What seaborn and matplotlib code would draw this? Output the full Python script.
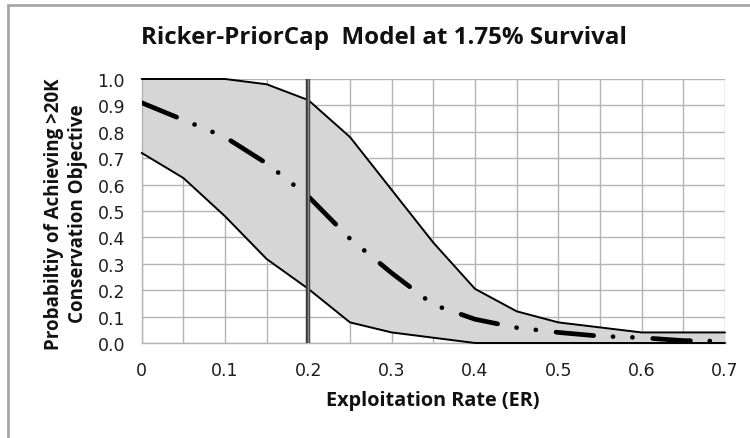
import matplotlib
matplotlib.use("Agg")
import matplotlib.pyplot as plt
from matplotlib.lines import Line2D
import numpy as np
import pandas as pd
import seaborn as sns

# Exploitation rate grid and probability of meeting the >20K objective
exploitation_rate = [0.00, 0.05, 0.10, 0.15, 0.20, 0.25, 0.30, 0.35,
                     0.40, 0.45, 0.50, 0.55, 0.60, 0.65, 0.70]
prob_median = [0.91, 0.845, 0.78, 0.68, 0.555, 0.395, 0.265, 0.145,
               0.09, 0.058, 0.04, 0.026, 0.02, 0.009, 0.007]
prob_upper = [1.00, 1.00, 1.00, 0.98, 0.92, 0.78, 0.58, 0.38,
              0.205, 0.12, 0.078, 0.059, 0.04, 0.04, 0.04]
prob_lower = [0.72, 0.625, 0.48, 0.318, 0.205, 0.078, 0.04, 0.02,
              0.00, 0.00, 0.00, 0.00, 0.00, 0.00, 0.00]
reference_er = 0.20

x_ticks = [0, 0.1, 0.2, 0.3, 0.4, 0.5, 0.6, 0.7]
x_tick_labels = ["0", "0.1", "0.2", "0.3", "0.4", "0.5", "0.6", "0.7"]
y_ticks = [0.0, 0.1, 0.2, 0.3, 0.4, 0.5, 0.6, 0.7, 0.8, 0.9, 1.0]

title_text = "Ricker-PriorCap  Model at 1.75% Survival"
x_label = "Exploitation Rate (ER)"
y_label = "Probabiltiy of Achieving >20K\nConservation Objective"

df = pd.DataFrame({"er": exploitation_rate, "median": prob_median,
                   "upper": prob_upper, "lower": prob_lower})

sns.set_style("white")
plt.rcParams["font.family"] = ["DejaVu Sans"]

fig = plt.figure(figsize=(7.5, 4.39), dpi=100)
ax = fig.add_axes([141.7 / 750, 1 - 344 / 439, (725 - 141.7) / 750, (344 - 80) / 439])

grid_c = "#b4b4b4"
ax.set_xlim(0, 0.7)
ax.set_ylim(0, 1.0)
ax.set_xticks(x_ticks)
ax.set_xticklabels(x_tick_labels)
ax.set_yticks(y_ticks)
ax.set_yticklabels([f"{v:.1f}" for v in y_ticks])
ax.set_xticks(np.arange(0.05, 0.7, 0.1), minor=True)
ax.grid(True, which="both", color=grid_c, linewidth=1.0, zorder=0)
ax.set_axisbelow(True)
for side in ["top", "right"]:
    ax.spines[side].set_visible(False)
for side in ["left", "bottom"]:
    ax.spines[side].set_color(grid_c)
    ax.spines[side].set_linewidth(1.0)
ax.tick_params(axis="both", which="major", direction="out", length=5,
               width=1.0, color=grid_c, labelsize=12.5, labelcolor="#1e1e1e")
ax.tick_params(axis="x", which="major", pad=8)
ax.tick_params(axis="y", which="major", pad=7)
ax.tick_params(axis="x", which="minor", length=0)

# Uncertainty band
ax.fill_between(df["er"], df["lower"], df["upper"], color="#d6d6d6",
                linewidth=0, zorder=1)
sns.lineplot(data=df, x="er", y="upper", ax=ax, color="black",
             linewidth=1.4, zorder=3, clip_on=False)
sns.lineplot(data=df, x="er", y="lower", ax=ax, color="black",
             linewidth=1.4, zorder=3, clip_on=False)

# Median: long dash - dot - dot
sns.lineplot(data=df, x="er", y="median", ax=ax, color="black",
             linewidth=3.4, zorder=4, dashes=False,
             solid_capstyle="round")
med_line = ax.lines[-1]
med_line.set_dashes((8.0, 4.1, 0.01, 4.1, 0.01, 4.3))
med_line.set_dash_capstyle("round")

# Reference exploitation rate
ax.axvline(reference_er, color="#3a3a3a", linewidth=3.2, zorder=5)
ax.axvline(reference_er, color="#8c8c8c", linewidth=1.0, zorder=6)

ax.set_xlabel("")
ax.set_ylabel("")

bold_font = ["Open Sans", "DejaVu Sans"]
fig.text(384 / 750, 1 - 38 / 439, title_text, ha="center", va="center",
         fontsize=17.4, fontweight="bold", family=bold_font, color="#111111")
fig.text(433 / 750, 1 - 401 / 439, x_label, ha="center", va="center",
         fontsize=14.3, fontweight="bold", family=bold_font, color="#111111")
fig.text(66 / 750, 1 - 214 / 439, y_label, ha="center", va="center",
         rotation=90, fontsize=13.5, fontweight="bold", family=bold_font,
         color="#111111", linespacing=1.2, multialignment="center")

# Chart frame
frame_c = "#a8a8a8"
fig.add_artist(Line2D([7.5 / 750, 7.5 / 750], [0, 1 - 5.5 / 439],
                      transform=fig.transFigure, color=frame_c, linewidth=2))
fig.add_artist(Line2D([7.5 / 750, 1], [1 - 5.5 / 439, 1 - 5.5 / 439],
                      transform=fig.transFigure, color=frame_c, linewidth=2))

fig.savefig("out.png", dpi=100, facecolor="white")
